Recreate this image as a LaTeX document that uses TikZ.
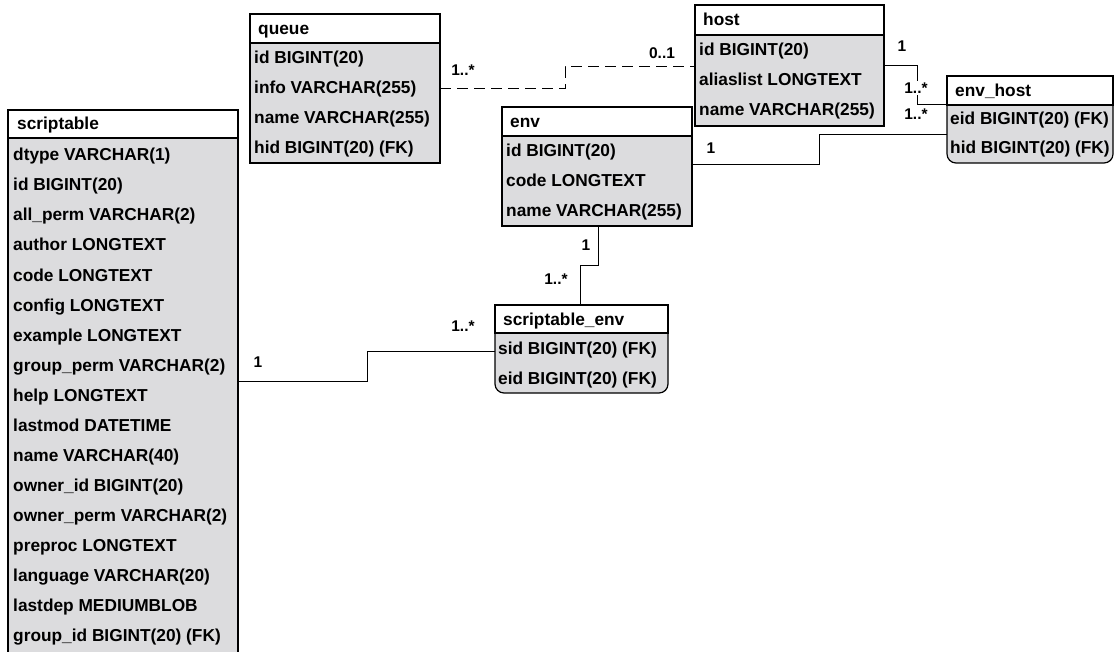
\documentclass[tikz,border=0pt]{standalone}
\usepackage{fontspec}
\setmainfont{Liberation Sans}
\definecolor{tgray}{RGB}{220,220,222}
\newcommand\tfont{\fontsize{17.3}{20}\selectfont\bfseries}
\newcommand\lfont{\fontsize{15.5}{18}\selectfont\bfseries}
\begin{document}
\begin{tikzpicture}[x=1pt,y=-1pt,
  tbox/.style={draw=black, line width=1.2pt, fill=tgray, anchor=north west, inner sep=0pt, outer sep=0pt},
  rbox/.style={tbox, rounded corners=9pt},
  thead/.style={draw=black, line width=1.2pt, fill=white, anchor=north west, inner sep=0pt, outer sep=0pt},
  htext/.style={anchor=base west, inner sep=0pt, font=\tfont},
  rtext/.style={anchor=base west, inner sep=0pt, font=\tfont},
  conn/.style={draw=black, line width=1pt},
  dconn/.style={conn, dash pattern=on 11pt off 6pt},
  mult/.style={inner sep=1pt, font=\lfont},
  wmult/.style={mult, fill=white, inner sep=1.5pt}]
\useasboundingbox (0,0) rectangle (1118,652);
\fill[white] (0,0) rectangle (1118,652);

% ---------- scriptable ----------
\node[tbox, minimum width=230pt, minimum height=570pt] (st) at (8,110) {};
\node[thead, minimum width=230pt, minimum height=28pt] (st-h) at (8,110) {};
\node[htext] (st-t) at ([xshift=9pt, yshift=-6pt]st-h.west) {scriptable};
\foreach \t [count=\i] in {dtype VARCHAR(1), id BIGINT(20), all\_perm VARCHAR(2), author LONGTEXT, code LONGTEXT, config LONGTEXT, example LONGTEXT, group\_perm VARCHAR(2), help LONGTEXT, lastmod DATETIME, name VARCHAR(40), owner\_id BIGINT(20), owner\_perm VARCHAR(2), preproc LONGTEXT, language VARCHAR(20), lastdep MEDIUMBLOB, group\_id BIGINT(20) (FK)}
  \node[rtext] (st-\i) at ([xshift=5pt, yshift={-23pt-(\i-1)*30pt}]st-h.south west) {\t};

% ---------- queue ----------
\node[tbox, minimum width=190pt, minimum height=149pt] (qu) at (250,14) {};
\node[thead, minimum width=190pt, minimum height=29pt] (qu-h) at (250,14) {};
\node[htext] (qu-t) at ([xshift=8pt, yshift=-6pt]qu-h.west) {queue};
\foreach \t [count=\i] in {id BIGINT(20), info VARCHAR(255), name VARCHAR(255), hid BIGINT(20) (FK)}
  \node[rtext] (qu-\i) at ([xshift=4pt, yshift={-21pt-(\i-1)*30pt}]qu-h.south west) {\t};

% ---------- host ----------
\node[tbox, minimum width=189pt, minimum height=121pt] (ho) at (695,5) {};
\node[thead, minimum width=189pt, minimum height=30pt] (ho-h) at (695,5) {};
\node[htext] (ho-t) at ([xshift=8pt, yshift=-6pt]ho-h.west) {host};
\foreach \t [count=\i] in {id BIGINT(20), aliaslist LONGTEXT, name VARCHAR(255)}
  \node[rtext] (ho-\i) at ([xshift=4pt, yshift={-21pt-(\i-1)*30pt}]ho-h.south west) {\t};

% ---------- env ----------
\node[tbox, minimum width=190pt, minimum height=119pt] (en) at (502,107) {};
\node[thead, minimum width=190pt, minimum height=29pt] (en-h) at (502,107) {};
\node[htext] (en-t) at ([xshift=8pt, yshift=-6pt]en-h.west) {env};
\foreach \t [count=\i] in {id BIGINT(20), code LONGTEXT, name VARCHAR(255)}
  \node[rtext] (en-\i) at ([xshift=4pt, yshift={-21pt-(\i-1)*30pt}]en-h.south west) {\t};

% ---------- env_host ----------
\node[rbox, minimum width=166pt, minimum height=87pt] (eh) at (947,76) {};
\node[thead, minimum width=166pt, minimum height=29pt] (eh-h) at (947,76) {};
\node[htext] (eh-t) at ([xshift=8pt, yshift=-6pt]eh-h.west) {env\_host};
\foreach \t [count=\i] in {eid BIGINT(20) (FK), hid BIGINT(20) (FK)}
  \node[rtext] (eh-\i) at ([xshift=3pt, yshift={-20pt-(\i-1)*29pt}]eh-h.south west) {\t};

% ---------- scriptable_env ----------
\node[rbox, minimum width=173pt, minimum height=88pt] (se) at (495,305) {};
\node[thead, minimum width=173pt, minimum height=28pt] (se-h) at (495,305) {};
\node[htext] (se-t) at ([xshift=8pt, yshift=-6pt]se-h.west) {scriptable\_env};
\foreach \t [count=\i] in {sid BIGINT(20) (FK), eid BIGINT(20) (FK)}
  \node[rtext] (se-\i) at ([xshift=3pt, yshift={-21pt-(\i-1)*30pt}]se-h.south west) {\t};

% ---------- connectors ----------
% queue -- host (dashed)
\draw[dconn] ([yshift=-75pt]qu.north east) -- ++(125,0) |- ([yshift=-62pt]ho.north west);
\node[mult] (m1) at (463,70) {1..*};
\node[mult] (m2) at (662,53) {0..1};

% host -- env_host
\draw[conn] ([yshift=-61pt]ho.north east) -- ++(33,0) |- ([yshift=-29pt]eh.north west);
\node[mult] (m3) at (902,46) {1};
\node[wmult] (m4) at (916,88) {1..*};

% env -- env_host
\draw[conn] ([yshift=-58pt]en.north east) -- ++(127,0) |- ([yshift=-59pt]eh.north west);
\node[mult] (m5) at (711,148) {1};
\node[mult] (m6) at (916,114) {1..*};

% env -- scriptable_env
\draw[conn] ([xshift=96pt]en.south west) -- ++(0,39) -| (se.north -| 580,0);
\node[mult] (m7) at (586,245) {1};
\node[mult] (m8) at (556,279) {1..*};

% scriptable -- scriptable_env
\draw[conn] (st.north east |- 0,381) -- (367,381) |- ([yshift=-46pt]se.north west);
\node[mult] (m9) at (258,362) {1};
\node[mult] (m10) at (463,326) {1..*};
\end{tikzpicture}
\end{document}
